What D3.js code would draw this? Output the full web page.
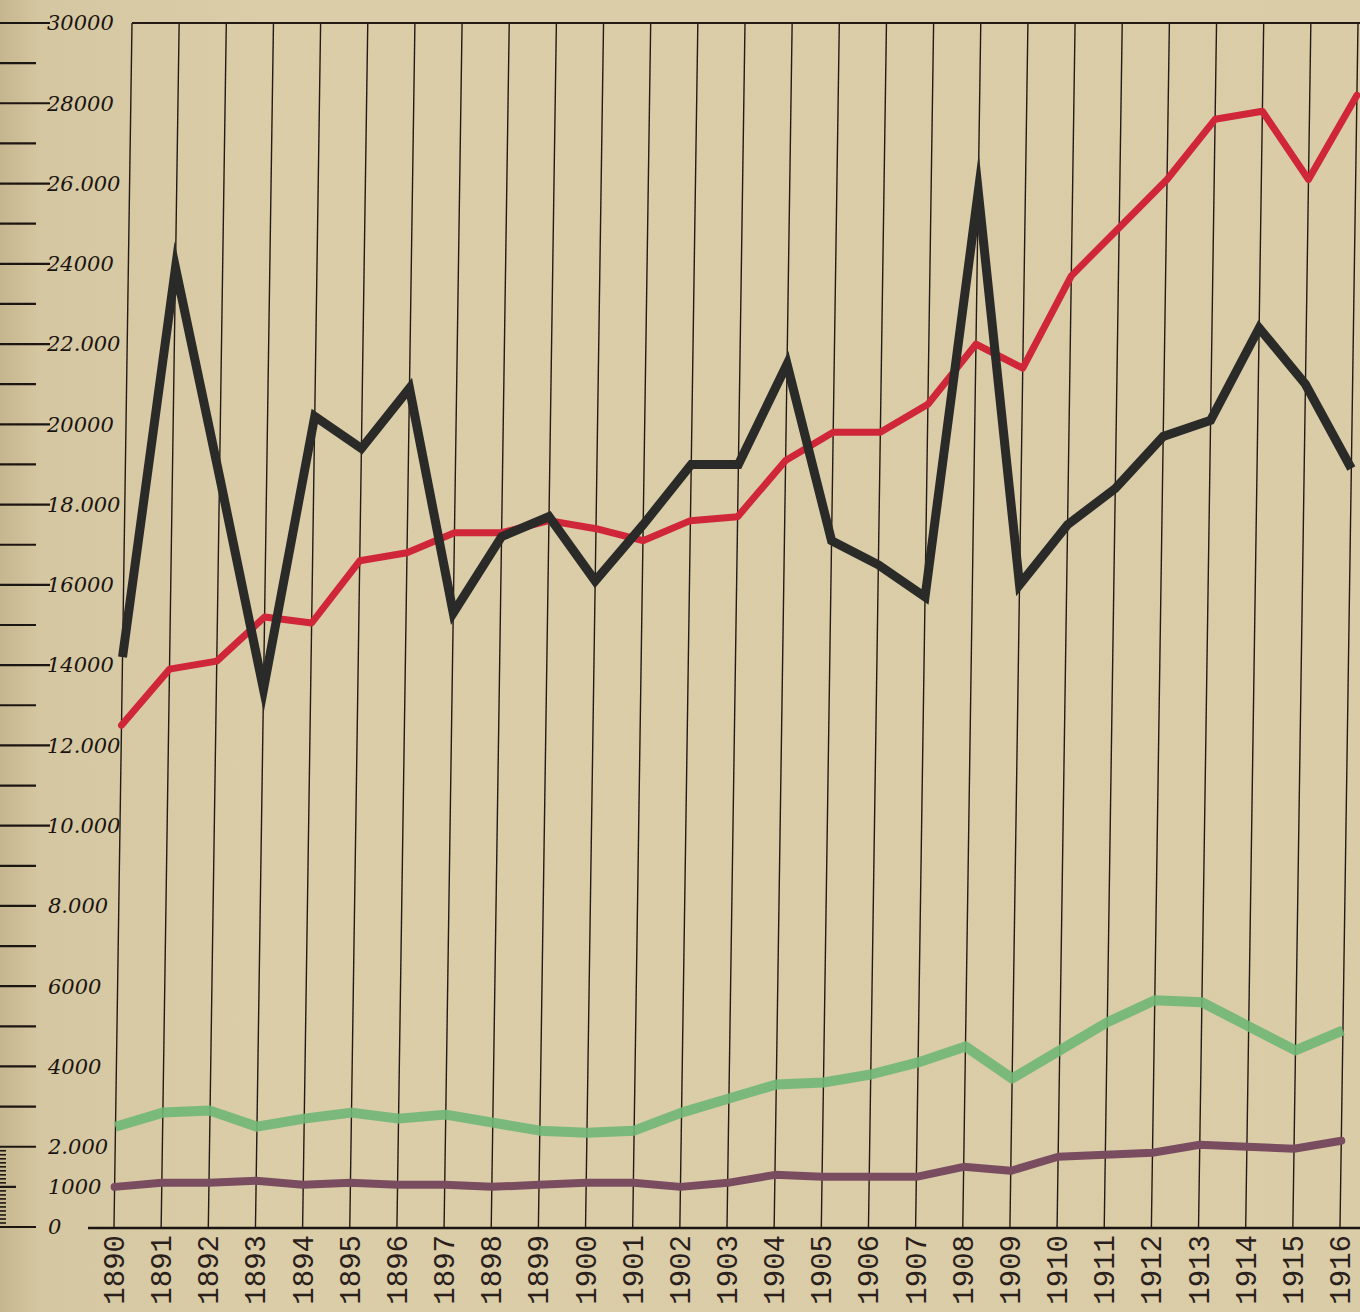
<!DOCTYPE html>
<html>
<head>
<meta charset="utf-8">
<script src="https://cdn.jsdelivr.net/npm/d3@7"></script>
<style>
  html, body { margin: 0; padding: 0; background: #d8cba6; }
  svg { display: block; }
</style>
</head>
<body>
<div id="chart"></div>
<script>
const years = d3.range(1890, 1917);

const redValues = [12500, 13900, 14100, 15200, 15050, 16600, 16800, 17300, 17300, 17600,
  17400, 17100, 17600, 17700, 19100, 19800, 19800, 20500, 22000, 21400,
  23700, 24900, 26100, 27600, 27800, 26100, 28200];

const blackValues = [14200, 23900, 18700, 13400, 20200, 19400, 20900, 15300, 17200, 17700,
  16100, 17500, 19000, 19000, 21500, 17100, 16500, 15700, 25800, 16000,
  17500, 18400, 19700, 20100, 22400, 21000, 18900];

const greenValues = [2500, 2850, 2900, 2500, 2700, 2850, 2700, 2800, 2600, 2400,
  2350, 2400, 2850, 3200, 3550, 3600, 3800, 4100, 4500, 3700,
  4400, 5100, 5650, 5600, 5000, 4400, 4900];

const purpleValues = [1000, 1100, 1100, 1150, 1050, 1100, 1050, 1050, 1000, 1050,
  1100, 1100, 1000, 1100, 1300, 1250, 1250, 1250, 1500, 1400,
  1750, 1800, 1850, 2050, 2000, 1950, 2150];

const tickValues = [30000, 28000, 26000, 24000, 22000, 20000, 18000, 16000, 14000,
  12000, 10000, 8000, 6000, 4000, 2000, 1000, 0];
const tickLabels = ["30000", "28000", "26.000", "24000", "22.000", "20000", "18.000", "16000", "14000",
  "12.000", "10.000", "8.000", "6000", "4000", "2.000", "1000", "0"];

const width = 1360, height = 1312;
const plotTop = 23, plotBottom = 1227;

const svg = d3.select("#chart").append("svg")
  .attr("width", width)
  .attr("height", height);

// paper, a little darker at the left edge like the scan
const grad = svg.append("defs").append("linearGradient")
  .attr("id", "paper")
  .attr("x1", 0).attr("x2", 1).attr("y1", 0).attr("y2", 0);
grad.append("stop").attr("offset", "0").attr("stop-color", "#c6b690");
grad.append("stop").attr("offset", "0.03").attr("stop-color", "#d5c7a1");
grad.append("stop").attr("offset", "0.2").attr("stop-color", "#dacda8");
grad.append("stop").attr("offset", "1").attr("stop-color", "#d9cca7");

svg.append("rect")
  .attr("width", width)
  .attr("height", height)
  .attr("fill", "url(#paper)");

const x = d3.scaleLinear().domain([1890, 1916]).range([114, 1340]);
const y = d3.scaleLinear().domain([0, 30000]).range([plotBottom, plotTop]);

// left scale: long ticks at labels, short ones between
const axis = svg.append("g");
d3.range(0, 30001, 1000).forEach(v => {
  const labelled = tickValues.includes(v);
  let len = labelled ? 50 : 36;
  if (v <= 8000 && labelled) len = 36;
  if (v === 1000) len = 16;
  axis.append("line")
    .attr("x1", 0).attr("x2", len)
    .attr("y1", y(v)).attr("y2", y(v))
    .attr("stroke", "#1c1612")
    .attr("stroke-width", 2.2);
});
d3.range(100, 2000, 100).forEach(v => {
  axis.append("line")
    .attr("x1", 0).attr("x2", 6)
    .attr("y1", y(v)).attr("y2", y(v))
    .attr("stroke", "#1c1612")
    .attr("stroke-width", 1.6);
});

axis.selectAll("text.ylab")
  .data(tickValues)
  .enter().append("text")
  .attr("class", "ylab")
  .attr("x", d => d >= 10000 ? 47 : 48)
  .attr("y", d => y(d))
  .attr("dy", "0.35em")
  .attr("font-family", "'DejaVu Serif', serif")
  .attr("font-style", "italic")
  .attr("font-size", 21)
  .attr("fill", "#1a1410")
  .text((d, i) => tickLabels[i]);

// plot area, slightly skewed like the scanned page
const k = 18 / (plotBottom - plotTop);
const plot = svg.append("g")
  .attr("transform", `matrix(1,0,${-k},1,${k * plotBottom},0)`);

plot.selectAll("line.year")
  .data(years)
  .enter().append("line")
  .attr("class", "year")
  .attr("x1", d => x(d)).attr("x2", d => x(d))
  .attr("y1", plotTop).attr("y2", plotBottom)
  .attr("stroke", "#241a16")
  .attr("stroke-width", 1.4);

plot.append("line")
  .attr("x1", x(1890)).attr("x2", width + 40)
  .attr("y1", plotTop).attr("y2", plotTop)
  .attr("stroke", "#241a16")
  .attr("stroke-width", 2);

const line = d3.line()
  .x((d, i) => x(years[i]))
  .y(d => y(d));

plot.append("path")
  .datum(purpleValues)
  .attr("d", line)
  .attr("fill", "none")
  .attr("stroke", "#7a4c60")
  .attr("stroke-width", 8)
  .attr("stroke-linejoin", "round")
  .attr("stroke-linecap", "round");

plot.append("path")
  .datum(greenValues)
  .attr("d", line)
  .attr("fill", "none")
  .attr("stroke", "#6fb776")
  .attr("stroke-opacity", 0.9)
  .attr("stroke-width", 10)
  .attr("stroke-linejoin", "round")
  .attr("stroke-linecap", "butt");

plot.append("path")
  .datum(redValues)
  .attr("d", line)
  .attr("fill", "none")
  .attr("stroke", "#d0263a")
  .attr("stroke-width", 7)
  .attr("stroke-linejoin", "round")
  .attr("stroke-linecap", "round");

plot.append("path")
  .datum(blackValues)
  .attr("d", line)
  .attr("fill", "none")
  .attr("stroke", "#2a2a28")
  .attr("stroke-width", 9)
  .attr("stroke-linejoin", "miter")
  .attr("stroke-miterlimit", 10)
  .attr("stroke-linecap", "butt");

// base line
svg.append("line")
  .attr("x1", 88).attr("x2", width)
  .attr("y1", plotBottom + 1).attr("y2", plotBottom + 1)
  .attr("stroke", "#1c1612")
  .attr("stroke-width", 2.6);

// year labels, read from bottom to top
svg.selectAll("text.year")
  .data(years)
  .enter().append("text")
  .attr("class", "year")
  .attr("transform", d => `translate(${x(d) + 10},1235) rotate(-90)`)
  .attr("text-anchor", "end")
  .attr("font-family", "'Liberation Mono', monospace")
  .attr("font-size", 29)
  .attr("fill", "#2a201b")
  .text(d => d);
</script>
</body>
</html>
